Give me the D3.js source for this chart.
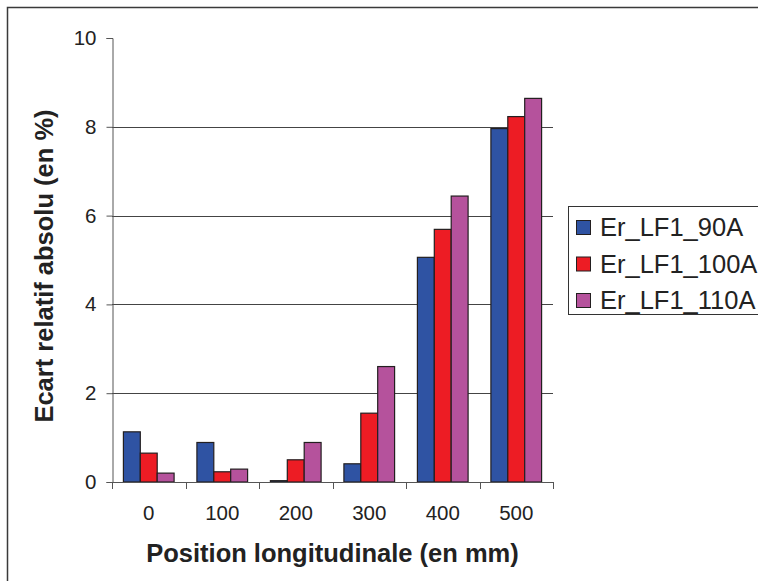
<!DOCTYPE html>
<html>
<head>
<meta charset="utf-8">
<script src="https://cdn.jsdelivr.net/npm/d3@7"></script>
<style>
  html, body { margin: 0; padding: 0; background: #fff; }
  svg { display: block; font-family: "Liberation Sans", Arial, sans-serif; }
</style>
</head>
<body>
<svg id="chart" width="758" height="581"></svg>
<script>
const categories = ["0", "100", "200", "300", "400", "500"];
const seriesNames = ["Er_LF1_90A", "Er_LF1_100A", "Er_LF1_110A"];
const er90 = [1.13, 0.89, 0.03, 0.41, 5.06, 7.96];
const er100 = [0.65, 0.23, 0.50, 1.55, 5.69, 8.23];
const er110 = [0.20, 0.29, 0.89, 2.60, 6.44, 8.64];
const yTicks = [0, 2, 4, 6, 8, 10];
const colors = ["#2f53a3", "#ed1c24", "#b5529c"];

(function () {
const seriesValues = [er90, er100, er110];
const svg = d3.select("#chart");

// outer frame
svg.append("rect").attr("x", 7.5).attr("y", 7.5).attr("width", 800).attr("height", 700)
  .attr("fill", "none").attr("stroke", "#3a3a3a").attr("stroke-width", 1.5);

const pl = 112, pr = 553, pt = 38, pb = 482;
const x0 = d3.scaleBand().domain(categories).range([pl, pr]).paddingInner(0).paddingOuter(0);
const x1 = d3.scaleBand().domain(seriesNames).range([0, x0.bandwidth()]).paddingInner(0).paddingOuter(0.675);
const y = d3.scaleLinear().domain([0, 10]).range([pb, pt]);

// gridlines
svg.append("g").selectAll("line").data(yTicks.filter(t => t > 0 && t < 10)).join("line")
  .attr("x1", pl).attr("x2", pr)
  .attr("y1", d => Math.round(y(d)) + 0.5).attr("y2", d => Math.round(y(d)) + 0.5)
  .attr("stroke", "#444").attr("stroke-width", 1);

// y axis
const yAxis = d3.axisLeft(y).tickValues(yTicks).tickSize(6).tickPadding(10).tickFormat(d3.format("d"));
const gy = svg.append("g").attr("transform", `translate(${pl + 0.5},0)`).call(yAxis);
gy.select(".domain").attr("stroke", "#555");
gy.selectAll(".tick line").attr("stroke", "#555");
gy.selectAll(".tick text").attr("font-size", 20.5).attr("fill", "#222")
  .attr("font-family", "Liberation Sans, Arial, sans-serif");

// bars
const groups = svg.append("g").selectAll("g").data(categories).join("g")
  .attr("transform", d => `translate(${x0(d)},0)`);
groups.selectAll("rect").data((c, i) => seriesNames.map((s, k) => ({ s, k, v: seriesValues[k][i] })))
  .join("rect")
  .attr("x", d => x1(d.s))
  .attr("width", x1.bandwidth())
  .attr("y", d => y(d.v))
  .attr("height", d => y(0) - y(d.v))
  .attr("fill", d => colors[d.k])
  .attr("stroke", "#231f20").attr("stroke-width", 1.2);

// x axis
const xTickPos = categories.map(c => x0(c)).concat([pr]);
svg.append("line").attr("x1", pl).attr("x2", pr).attr("y1", pb + 0.5).attr("y2", pb + 0.5)
  .attr("stroke", "#555");
svg.append("g").selectAll("line").data(xTickPos).join("line")
  .attr("x1", d => Math.round(d) + 0.5).attr("x2", d => Math.round(d) + 0.5)
  .attr("y1", pb).attr("y2", pb + 7).attr("stroke", "#555");
svg.append("g").selectAll("text").data(categories).join("text")
  .attr("x", d => x0(d) + x0.bandwidth() / 2).attr("y", 520)
  .attr("text-anchor", "middle").attr("font-size", 20.5).attr("fill", "#222").text(d => d);

// axis titles
svg.append("text").attr("x", (pl + pr) / 2).attr("y", 562).attr("text-anchor", "middle")
  .attr("font-size", 25.5).attr("font-weight", "bold").attr("fill", "#222")
  .text("Position longitudinale (en mm)");
svg.append("text").attr("transform", `translate(53,266) rotate(-90)`)
  .attr("text-anchor", "middle").attr("font-size", 25.5).attr("font-weight", "bold").attr("fill", "#222")
  .text("Ecart relatif absolu (en %)");

// legend
const lg = svg.append("g");
lg.append("rect").attr("x", 568.5).attr("y", 206.5).attr("width", 220).attr("height", 108)
  .attr("fill", "#fff").attr("stroke", "#333").attr("stroke-width", 1);
const items = lg.selectAll("g").data(seriesNames).join("g")
  .attr("transform", (d, i) => `translate(0,${220 + i * 36.5})`);
items.append("rect").attr("x", 576.5).attr("y", 0.5).attr("width", 14).attr("height", 14)
  .attr("fill", (d, i) => colors[i]).attr("stroke", "#231f20").attr("stroke-width", 1);
items.append("text").attr("x", 600).attr("y", 16).attr("font-size", 25.5).attr("fill", "#222").text(d => d);
})();
</script>
</body>
</html>
